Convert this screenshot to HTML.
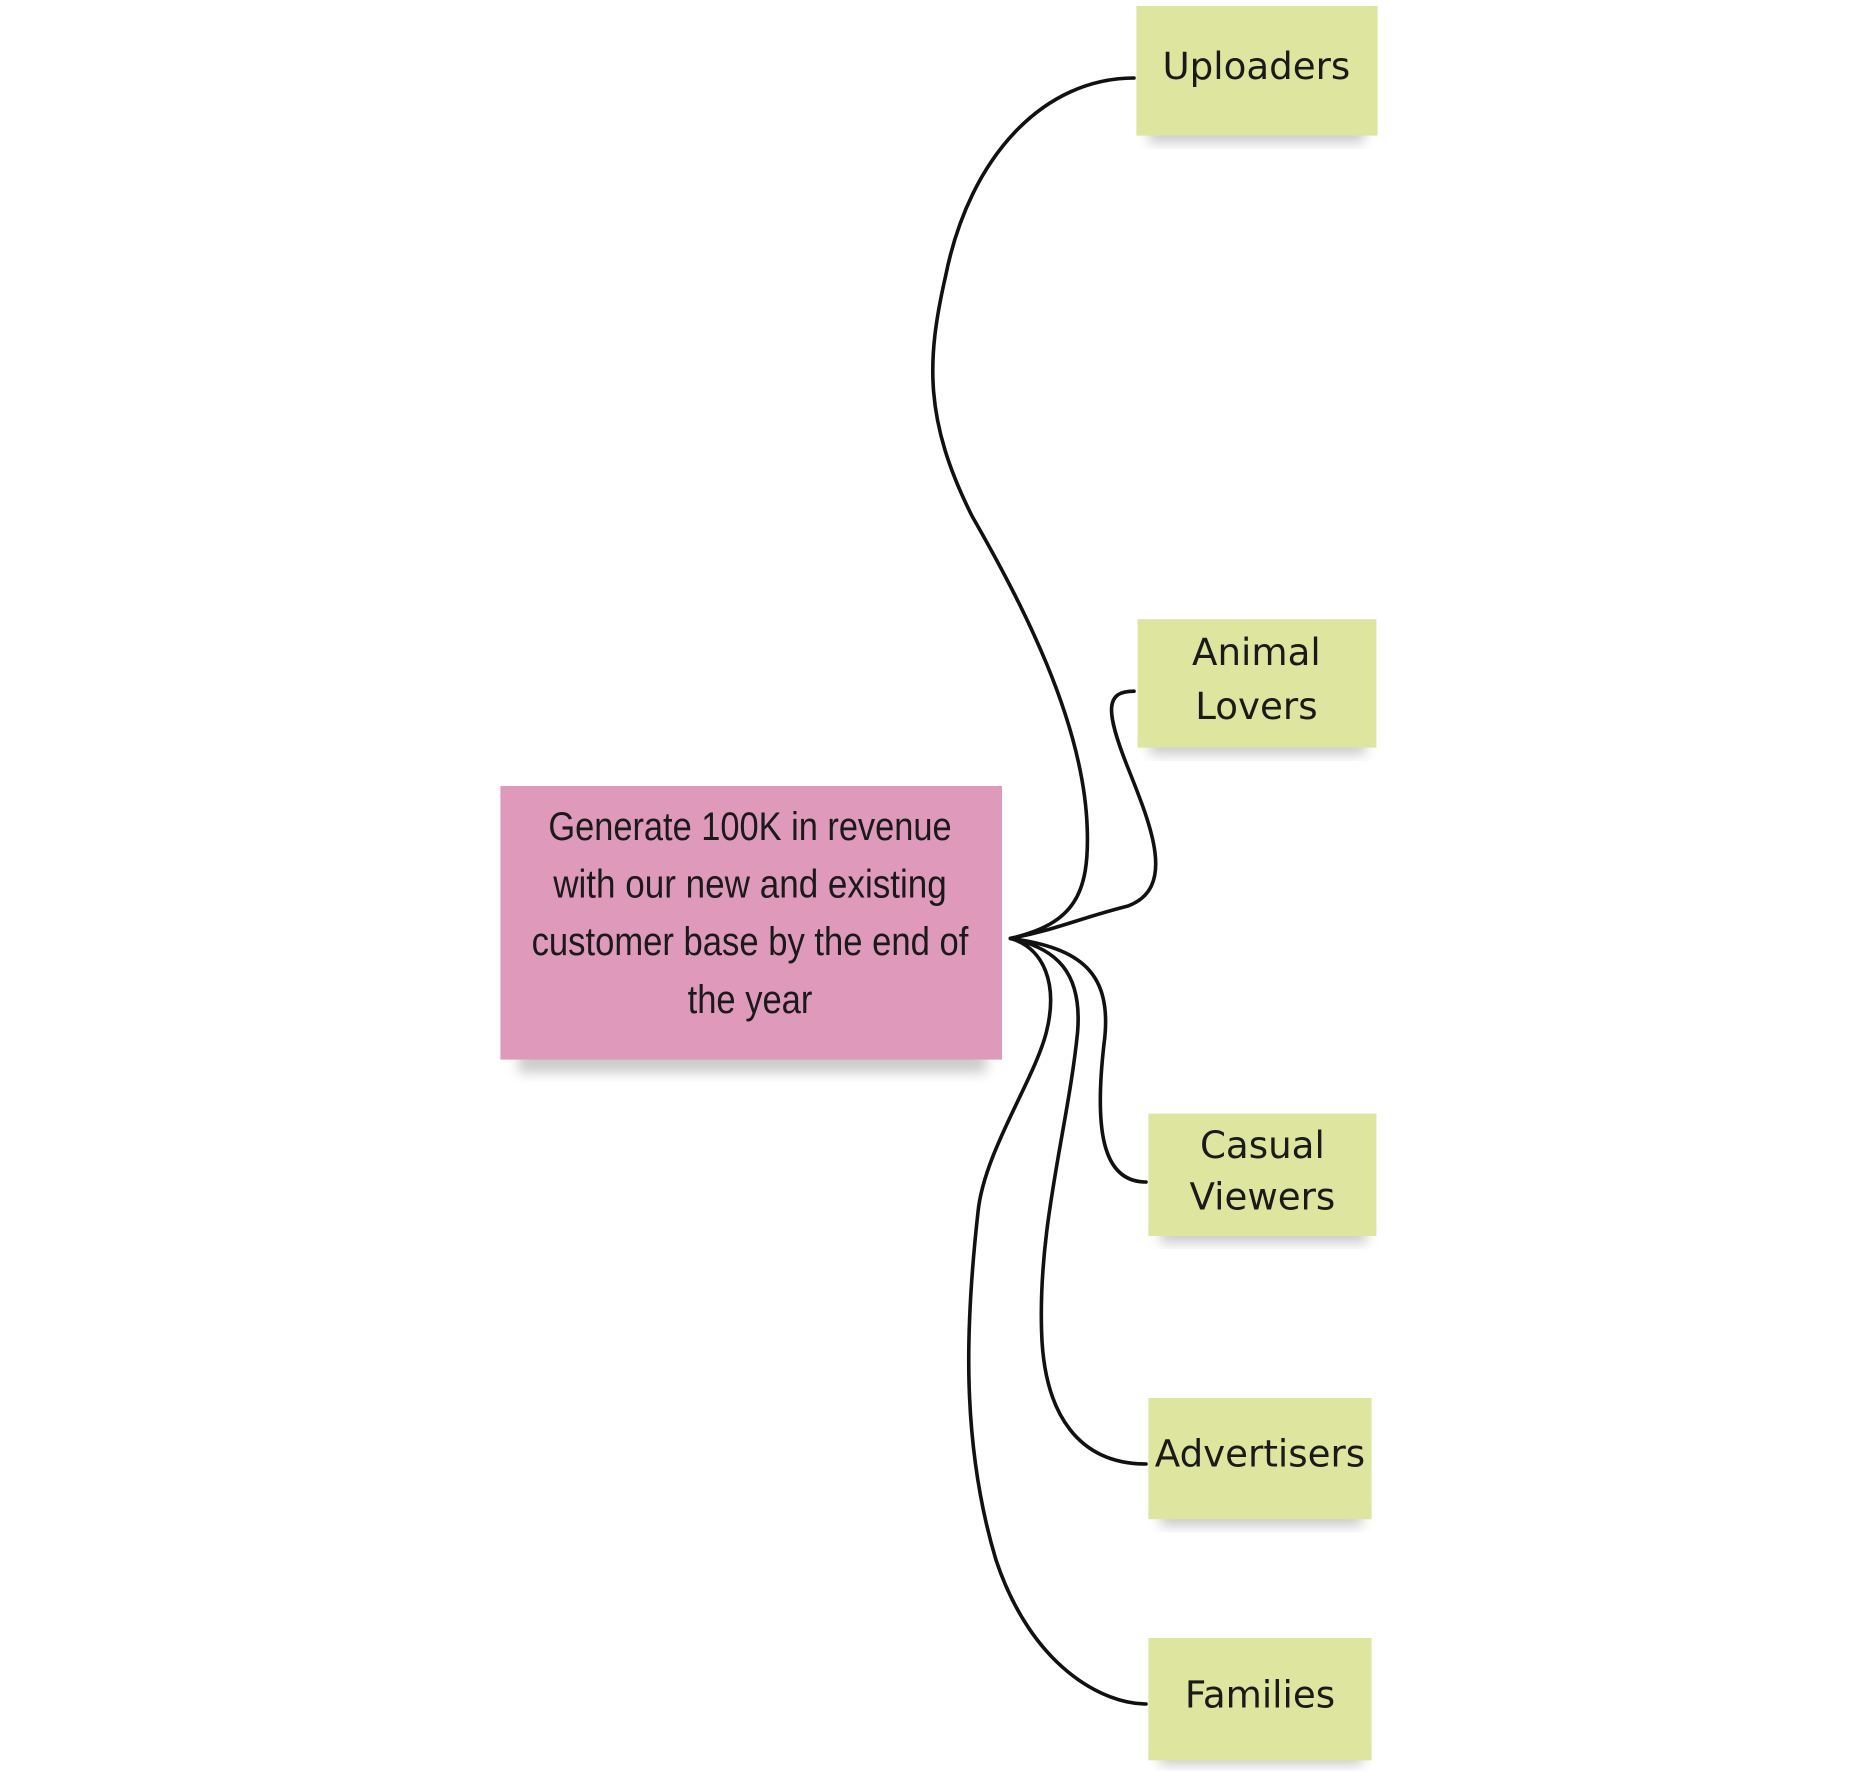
<!DOCTYPE html>
<html><head><meta charset="utf-8"><style>
html,body{margin:0;padding:0;background:#fff;width:1872px;height:1772px;overflow:hidden}
svg{display:block}
.lbl{font-family:"DejaVu Sans","Liberation Sans",sans-serif;font-size:31px;fill:#1a1a1a;text-anchor:middle}
.goal{font-family:"Liberation Sans",sans-serif;font-size:33px;fill:#1a1a1a;text-anchor:middle}
.ln{fill:none;stroke:#111;stroke-width:3;stroke-linecap:round}
</style></head><body>
<svg width="1872" height="1772" viewBox="0 0 1560 1476.67" xmlns="http://www.w3.org/2000/svg">
<defs>
<filter id="sh" x="-10%" y="-10%" width="120%" height="140%"><feGaussianBlur stdDeviation="5"/></filter>
</defs>
<g>
<path class="ln" d="M842,782 C895,770 908,745 906,690 C903,600 850,500 810,430 C770,350 772,300 788,230 C808,130 870,65 945,65"/>
<path class="ln" d="M842,782 C880,775 900,765 940,755 C980,740 960,690 940,640 C920,590 922,576 945,576"/>
<path class="ln" d="M842,782 C900,790 928,810 920,870 C912,940 918,985 955,985"/>
<path class="ln" d="M842,782 C880,790 902,810 898,860 C890,940 865,1020 868,1110 C870,1180 900,1220 955,1220"/>
<path class="ln" d="M842,782 C870,790 882,820 872,860 C862,900 820,960 815,1010 C805,1100 800,1200 830,1300 C860,1390 920,1420 955,1420"/>
</g>
<g>
<rect x="432" y="868" width="390" height="26" fill="#999" opacity="0.5" filter="url(#sh)"/>
<rect x="417" y="655" width="418" height="228" fill="#df9abb"/>
<text class="goal" textLength="336" lengthAdjust="spacingAndGlyphs" x="625" y="700">Generate 100K in revenue</text>
<text class="goal" textLength="328" lengthAdjust="spacingAndGlyphs" x="625" y="748">with our new and existing</text>
<text class="goal" textLength="364" lengthAdjust="spacingAndGlyphs" x="625" y="796">customer base by the end of</text>
<text class="goal" textLength="104" lengthAdjust="spacingAndGlyphs" x="625" y="844">the year</text>
</g>
<g>
<rect x="957" y="103" width="180" height="16" fill="#999" opacity="0.5" filter="url(#sh)"/>
<rect x="947" y="5" width="201" height="108" fill="#dde59e"/>
<text class="lbl" x="1047" y="66">Uploaders</text>
</g>
<g>
<rect x="958" y="613" width="180" height="16" fill="#999" opacity="0.5" filter="url(#sh)"/>
<rect x="948" y="516" width="199" height="107" fill="#dde59e"/>
<text class="lbl" x="1047" y="554">Animal</text>
<text class="lbl" x="1047" y="599">Lovers</text>
</g>
<g>
<rect x="967" y="1020" width="172" height="16" fill="#999" opacity="0.5" filter="url(#sh)"/>
<rect x="957" y="928" width="190" height="102" fill="#dde59e"/>
<text class="lbl" x="1052" y="965">Casual</text>
<text class="lbl" x="1052" y="1008">Viewers</text>
</g>
<g>
<rect x="967" y="1256" width="168" height="16" fill="#999" opacity="0.5" filter="url(#sh)"/>
<rect x="957" y="1165" width="186" height="101" fill="#dde59e"/>
<text class="lbl" x="1050" y="1222">Advertisers</text>
</g>
<g>
<rect x="967" y="1457" width="168" height="14" fill="#999" opacity="0.5" filter="url(#sh)"/>
<rect x="957" y="1365" width="186" height="102" fill="#dde59e"/>
<text class="lbl" x="1050" y="1423">Families</text>
</g>
</svg>
</body></html>
